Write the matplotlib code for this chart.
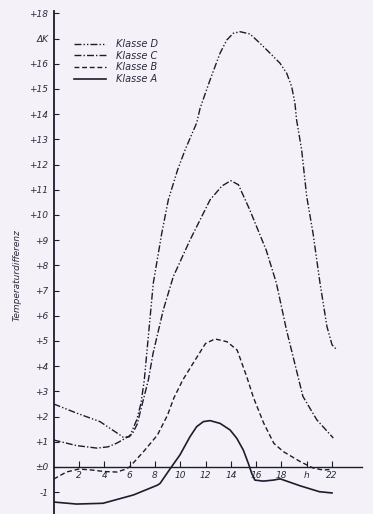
import matplotlib.pyplot as plt
from matplotlib.lines import Line2D

# values (hour of day -> temperature difference in K)
hours_a = [0, 1.8, 3.9, 6.3, 8.2, 8.41, 9.19, 9.98, 10.77, 11.3, 11.83, 12.36, 13.15, 13.94, 14.47, 14.99, 15.38, 15.65, 15.9, 16.57, 17.36, 17.9, 19.5, 21.0, 22.0]
temp_a = [-1.39, -1.47, -1.44, -1.11, -0.72, -0.65, -0.08, 0.48, 1.2, 1.6, 1.8, 1.84, 1.73, 1.47, 1.14, 0.67, 0.15, -0.25, -0.52, -0.56, -0.52, -0.47, -0.75, -0.98, -1.03]

hours_b = [0, 1, 2, 3, 4, 5, 5.6, 6, 7.1, 8.2, 9, 9.5, 10.2, 11, 12, 12.75, 13.7, 14.5, 15.26, 15.8, 16.6, 17.4, 18.15, 19.5, 20.5, 21.3, 21.8]
temp_b = [-0.48, -0.2, -0.08, -0.12, -0.18, -0.2, -0.1, 0.0, 0.61, 1.27, 2.06, 2.74, 3.45, 4.1, 4.9, 5.08, 4.97, 4.64, 3.58, 2.74, 1.74, 0.94, 0.61, 0.21, -0.04, -0.12, -0.1]

hours_c = [0, 1.8, 3.4, 4.3, 5.0, 5.6, 6.2, 6.6, 7.0, 7.48, 7.85, 8.66, 9.45, 10.77, 12.36, 13.3, 14.0, 14.6, 15.5, 16.8, 17.6, 18.4, 19.7, 20.8, 22.1]
temp_c = [1.07, 0.85, 0.75, 0.8, 0.95, 1.12, 1.3, 1.7, 2.5, 3.45, 4.5, 6.23, 7.55, 9.0, 10.6, 11.15, 11.36, 11.2, 10.2, 8.6, 7.3, 5.44, 2.8, 1.87, 1.15]

hours_d = [0, 1.8, 3.66, 5.0, 5.5, 6.0, 6.56, 6.9, 7.16, 7.87, 8.54, 9.06, 9.8, 10.4, 11.3, 11.57, 12.36, 13.15, 13.68, 14.2, 14.73, 15.52, 16.31, 17.1, 17.89, 18.42, 18.81, 19.07, 19.2, 19.6, 20.0, 20.5, 21.05, 21.6, 22.0, 22.4]
temp_d = [2.5, 2.14, 1.8, 1.35, 1.18, 1.2, 1.87, 2.53, 3.45, 7.29, 9.27, 10.6, 11.8, 12.6, 13.65, 14.23, 15.36, 16.42, 16.94, 17.21, 17.27, 17.18, 16.81, 16.42, 16.02, 15.62, 15.09, 14.43, 13.77, 12.58, 10.73, 9.27, 7.3, 5.57, 4.85, 4.64]

xticks = [2, 4, 6, 8, 10, 12, 14, 16, 18, 20, 22]
xlabels = ['2', '4', '6', '8', '10', '12', '14', '16', '18', 'h', '22']
yticks = list(range(-1, 19))
ylabels = ['-1', '±0'] + ['+%d' % v for v in range(1, 17)] + ['ΔK', '+18']

paper = '#f4f2f8'
ink = '#1c1c2c'
txt = '#2a2a3c'

fig = plt.figure(figsize=(3.73, 5.14), dpi=100, facecolor=paper)
ax = fig.add_axes([0.144, 0.0, 0.8265, 0.979])
ax.set_facecolor(paper)

lw = 1.0
style_d = (0, (5, 1.5, 1, 1.5, 1, 1.5))
style_c = (0, (5, 1.5, 1, 1.5))
style_b = (0, (3.5, 2))
ax.plot(hours_d, temp_d, color=ink, lw=lw, linestyle=style_d)
ax.plot(hours_c, temp_c, color=ink, lw=lw, linestyle=style_c)
ax.plot(hours_b, temp_b, color=ink, lw=lw, linestyle=style_b)
ax.plot(hours_a, temp_a, color=ink, lw=1.2, linestyle='-')

ax.set_xlim(0, 24.37)
ax.set_ylim(-1.865, 18.1)

ax.spines['top'].set_visible(False)
ax.spines['right'].set_visible(False)
ax.spines['bottom'].set_position(('data', 0))
ax.spines['bottom'].set_linewidth(1.0)
ax.spines['left'].set_linewidth(1.3)
ax.spines['bottom'].set_color(ink)
ax.spines['left'].set_color(ink)

tfont = {'fontsize': 6.5, 'fontstyle': 'italic', 'color': txt}
ax.set_xticks(xticks)
ax.set_xticklabels(xlabels, **tfont)
ax.set_yticks(yticks)
ax.set_yticklabels(ylabels, **tfont)
ax.tick_params(axis='x', direction='in', length=4, width=0.8, pad=3, colors=ink)
ax.tick_params(axis='y', direction='in', length=3.5, width=0.8, pad=4, colors=ink)
for lab in ax.get_xticklabels() + ax.get_yticklabels():
    lab.set_color(txt)

ax.set_ylabel('Temperaturdifferenz', fontsize=6.5, fontstyle='italic', color=txt)
ax.yaxis.set_label_coords(-0.103, 0.474)

handles = [
    Line2D([], [], color=ink, lw=lw, linestyle=style_d),
    Line2D([], [], color=ink, lw=lw, linestyle=style_c),
    Line2D([], [], color=ink, lw=lw, linestyle=style_b),
    Line2D([], [], color=ink, lw=1.2, linestyle='-'),
]
leg = fig.legend(handles, ['Klasse D', 'Klasse C', 'Klasse B', 'Klasse A'],
                 loc='upper left', bbox_to_anchor=(74 / 373, 1 - 39 / 514),
                 frameon=False, borderpad=0, borderaxespad=0,
                 handlelength=3.3, handletextpad=1.0, labelspacing=0.17,
                 prop={'size': 7, 'style': 'italic'})
for t in leg.get_texts():
    t.set_color(txt)

fig.savefig('out.png', dpi=100, facecolor=paper)
